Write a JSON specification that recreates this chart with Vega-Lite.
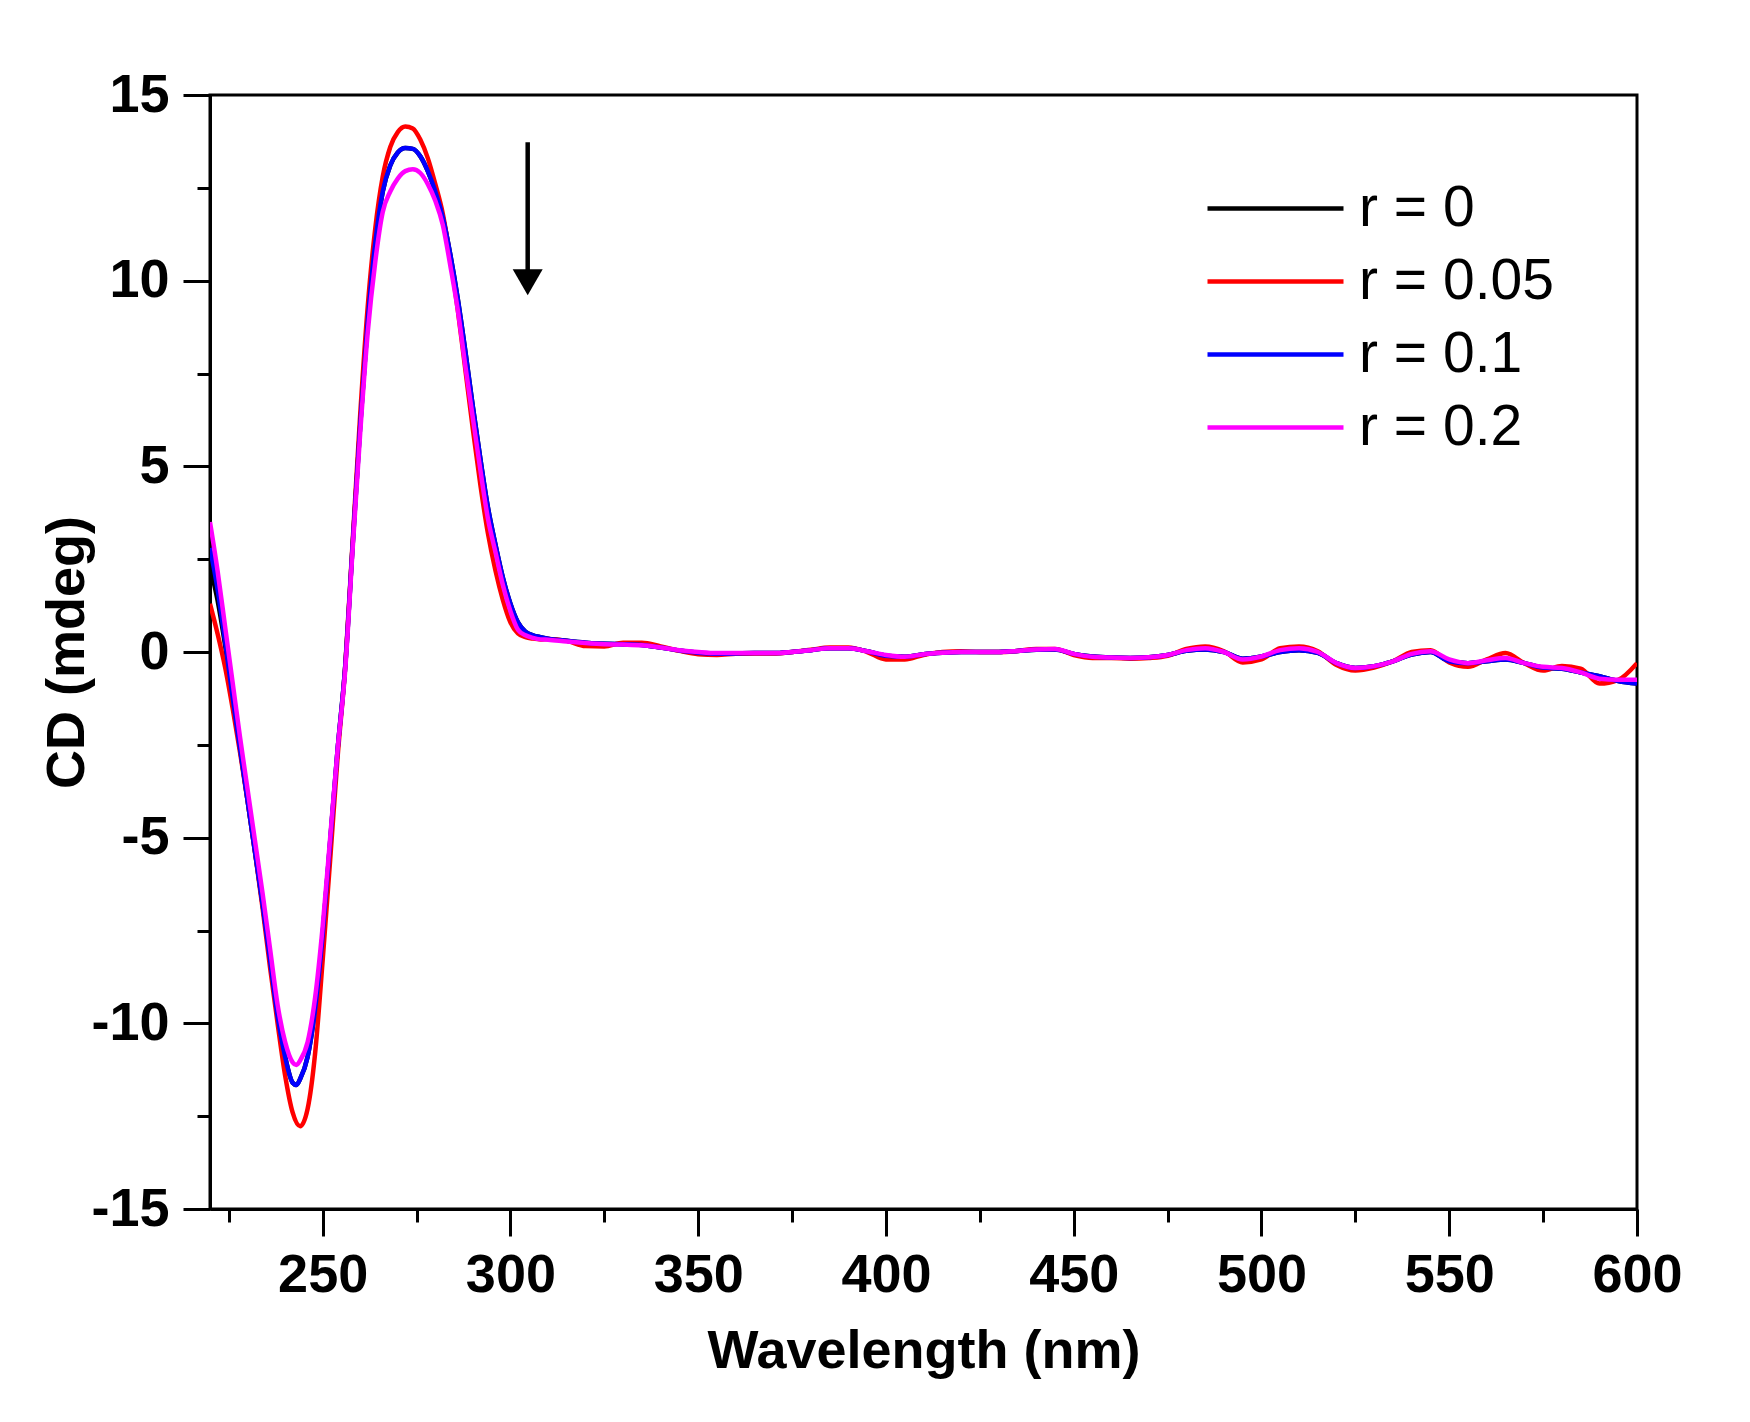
{
  "$schema": "https://vega.github.io/schema/vega-lite/v6.json",
  "autosize": {"type": "none"},
  "padding": {"left": 210, "top": 95, "right": 113, "bottom": 213},
  "width": 1427,
  "height": 1114,
  "background": "white",
  "config": {
    "font": "Liberation Sans",
    "view": {"stroke": "black", "strokeWidth": 3}
  },
  "layer": [
    {
      "data": {
        "values": [
          {"r": "r = 0", "nm": 220, "cd": 2.3}, {"r": "r = 0", "nm": 222, "cd": 1.4}, {"r": "r = 0", "nm": 224, "cd": 0.2},
          {"r": "r = 0", "nm": 226, "cd": -1.2}, {"r": "r = 0", "nm": 228, "cd": -2.6}, {"r": "r = 0", "nm": 230, "cd": -4.0},
          {"r": "r = 0", "nm": 232, "cd": -5.4}, {"r": "r = 0", "nm": 234, "cd": -6.8}, {"r": "r = 0", "nm": 236, "cd": -8.3},
          {"r": "r = 0", "nm": 238, "cd": -9.8}, {"r": "r = 0", "nm": 240, "cd": -10.9}, {"r": "r = 0", "nm": 242, "cd": -11.6},
          {"r": "r = 0", "nm": 243, "cd": -11.66}, {"r": "r = 0", "nm": 244, "cd": -11.5}, {"r": "r = 0", "nm": 246, "cd": -10.9},
          {"r": "r = 0", "nm": 248, "cd": -9.6}, {"r": "r = 0", "nm": 250, "cd": -7.6}, {"r": "r = 0", "nm": 252, "cd": -5.1},
          {"r": "r = 0", "nm": 254, "cd": -2.6}, {"r": "r = 0", "nm": 256, "cd": -0.4}, {"r": "r = 0", "nm": 258, "cd": 2.9},
          {"r": "r = 0", "nm": 260, "cd": 6.1}, {"r": "r = 0", "nm": 262, "cd": 8.9}, {"r": "r = 0", "nm": 264, "cd": 11.0},
          {"r": "r = 0", "nm": 266, "cd": 12.4}, {"r": "r = 0", "nm": 268, "cd": 13.1}, {"r": "r = 0", "nm": 270, "cd": 13.45},
          {"r": "r = 0", "nm": 272, "cd": 13.57}, {"r": "r = 0", "nm": 274, "cd": 13.55}, {"r": "r = 0", "nm": 276, "cd": 13.35},
          {"r": "r = 0", "nm": 278, "cd": 12.95}, {"r": "r = 0", "nm": 280, "cd": 12.4}, {"r": "r = 0", "nm": 282, "cd": 11.7},
          {"r": "r = 0", "nm": 284, "cd": 10.7}, {"r": "r = 0", "nm": 286, "cd": 9.5}, {"r": "r = 0", "nm": 288, "cd": 8.1},
          {"r": "r = 0", "nm": 290, "cd": 6.6}, {"r": "r = 0", "nm": 292, "cd": 5.2}, {"r": "r = 0", "nm": 294, "cd": 3.9},
          {"r": "r = 0", "nm": 296, "cd": 2.9}, {"r": "r = 0", "nm": 298, "cd": 2.0}, {"r": "r = 0", "nm": 300, "cd": 1.3},
          {"r": "r = 0", "nm": 302, "cd": 0.8}, {"r": "r = 0", "nm": 304, "cd": 0.55}, {"r": "r = 0", "nm": 306, "cd": 0.45},
          {"r": "r = 0", "nm": 308, "cd": 0.4}, {"r": "r = 0", "nm": 310, "cd": 0.36}, {"r": "r = 0", "nm": 315, "cd": 0.3},
          {"r": "r = 0", "nm": 320, "cd": 0.25}, {"r": "r = 0", "nm": 325, "cd": 0.22}, {"r": "r = 0", "nm": 330, "cd": 0.21},
          {"r": "r = 0", "nm": 335, "cd": 0.19}, {"r": "r = 0", "nm": 340, "cd": 0.12}, {"r": "r = 0", "nm": 345, "cd": 0.04},
          {"r": "r = 0", "nm": 350, "cd": -0.02}, {"r": "r = 0", "nm": 355, "cd": -0.05}, {"r": "r = 0", "nm": 360, "cd": -0.04},
          {"r": "r = 0", "nm": 365, "cd": -0.03}, {"r": "r = 0", "nm": 370, "cd": -0.03}, {"r": "r = 0", "nm": 375, "cd": 0.0},
          {"r": "r = 0", "nm": 380, "cd": 0.05}, {"r": "r = 0", "nm": 385, "cd": 0.1}, {"r": "r = 0", "nm": 390, "cd": 0.1},
          {"r": "r = 0", "nm": 395, "cd": 0.02}, {"r": "r = 0", "nm": 400, "cd": -0.1}, {"r": "r = 0", "nm": 405, "cd": -0.13},
          {"r": "r = 0", "nm": 410, "cd": -0.06}, {"r": "r = 0", "nm": 415, "cd": -0.02}, {"r": "r = 0", "nm": 420, "cd": 0.0},
          {"r": "r = 0", "nm": 425, "cd": 0.0}, {"r": "r = 0", "nm": 430, "cd": 0.0}, {"r": "r = 0", "nm": 435, "cd": 0.03},
          {"r": "r = 0", "nm": 440, "cd": 0.06}, {"r": "r = 0", "nm": 445, "cd": 0.07}, {"r": "r = 0", "nm": 450, "cd": -0.05},
          {"r": "r = 0", "nm": 455, "cd": -0.12}, {"r": "r = 0", "nm": 460, "cd": -0.15}, {"r": "r = 0", "nm": 465, "cd": -0.16},
          {"r": "r = 0", "nm": 470, "cd": -0.14}, {"r": "r = 0", "nm": 475, "cd": -0.08}, {"r": "r = 0", "nm": 480, "cd": 0.03},
          {"r": "r = 0", "nm": 485, "cd": 0.07}, {"r": "r = 0", "nm": 490, "cd": 0.0}, {"r": "r = 0", "nm": 495, "cd": -0.18},
          {"r": "r = 0", "nm": 500, "cd": -0.12}, {"r": "r = 0", "nm": 505, "cd": 0.0}, {"r": "r = 0", "nm": 510, "cd": 0.05},
          {"r": "r = 0", "nm": 515, "cd": -0.02}, {"r": "r = 0", "nm": 520, "cd": -0.3}, {"r": "r = 0", "nm": 525, "cd": -0.43},
          {"r": "r = 0", "nm": 530, "cd": -0.38}, {"r": "r = 0", "nm": 535, "cd": -0.25}, {"r": "r = 0", "nm": 540, "cd": -0.07},
          {"r": "r = 0", "nm": 545, "cd": 0.0}, {"r": "r = 0", "nm": 550, "cd": -0.25}, {"r": "r = 0", "nm": 555, "cd": -0.3},
          {"r": "r = 0", "nm": 560, "cd": -0.25}, {"r": "r = 0", "nm": 565, "cd": -0.2}, {"r": "r = 0", "nm": 570, "cd": -0.3},
          {"r": "r = 0", "nm": 575, "cd": -0.42}, {"r": "r = 0", "nm": 580, "cd": -0.45}, {"r": "r = 0", "nm": 585, "cd": -0.55},
          {"r": "r = 0", "nm": 590, "cd": -0.65}, {"r": "r = 0", "nm": 595, "cd": -0.78}, {"r": "r = 0", "nm": 600, "cd": -0.85},

          {"r": "r = 0.05", "nm": 220, "cd": 1.3}, {"r": "r = 0.05", "nm": 222, "cd": 0.5}, {"r": "r = 0.05", "nm": 224, "cd": -0.4},
          {"r": "r = 0.05", "nm": 226, "cd": -1.5}, {"r": "r = 0.05", "nm": 228, "cd": -2.7}, {"r": "r = 0.05", "nm": 230, "cd": -4.0},
          {"r": "r = 0.05", "nm": 232, "cd": -5.4}, {"r": "r = 0.05", "nm": 234, "cd": -6.9}, {"r": "r = 0.05", "nm": 236, "cd": -8.5},
          {"r": "r = 0.05", "nm": 238, "cd": -10.0}, {"r": "r = 0.05", "nm": 240, "cd": -11.4}, {"r": "r = 0.05", "nm": 242, "cd": -12.4},
          {"r": "r = 0.05", "nm": 244, "cd": -12.77}, {"r": "r = 0.05", "nm": 246, "cd": -12.3}, {"r": "r = 0.05", "nm": 248, "cd": -10.8},
          {"r": "r = 0.05", "nm": 250, "cd": -8.3}, {"r": "r = 0.05", "nm": 252, "cd": -5.6}, {"r": "r = 0.05", "nm": 254, "cd": -2.8},
          {"r": "r = 0.05", "nm": 256, "cd": -0.4}, {"r": "r = 0.05", "nm": 258, "cd": 3.0}, {"r": "r = 0.05", "nm": 260, "cd": 6.4},
          {"r": "r = 0.05", "nm": 262, "cd": 9.3}, {"r": "r = 0.05", "nm": 264, "cd": 11.4}, {"r": "r = 0.05", "nm": 266, "cd": 12.8},
          {"r": "r = 0.05", "nm": 268, "cd": 13.6}, {"r": "r = 0.05", "nm": 270, "cd": 14.0}, {"r": "r = 0.05", "nm": 272, "cd": 14.15},
          {"r": "r = 0.05", "nm": 274, "cd": 14.1}, {"r": "r = 0.05", "nm": 276, "cd": 13.8}, {"r": "r = 0.05", "nm": 278, "cd": 13.3},
          {"r": "r = 0.05", "nm": 280, "cd": 12.6}, {"r": "r = 0.05", "nm": 282, "cd": 11.8}, {"r": "r = 0.05", "nm": 284, "cd": 10.6},
          {"r": "r = 0.05", "nm": 286, "cd": 9.2}, {"r": "r = 0.05", "nm": 288, "cd": 7.6}, {"r": "r = 0.05", "nm": 290, "cd": 6.0},
          {"r": "r = 0.05", "nm": 292, "cd": 4.5}, {"r": "r = 0.05", "nm": 294, "cd": 3.2}, {"r": "r = 0.05", "nm": 296, "cd": 2.2},
          {"r": "r = 0.05", "nm": 298, "cd": 1.4}, {"r": "r = 0.05", "nm": 300, "cd": 0.8}, {"r": "r = 0.05", "nm": 302, "cd": 0.5},
          {"r": "r = 0.05", "nm": 304, "cd": 0.4}, {"r": "r = 0.05", "nm": 306, "cd": 0.36}, {"r": "r = 0.05", "nm": 308, "cd": 0.34},
          {"r": "r = 0.05", "nm": 310, "cd": 0.35}, {"r": "r = 0.05", "nm": 315, "cd": 0.3}, {"r": "r = 0.05", "nm": 320, "cd": 0.16},
          {"r": "r = 0.05", "nm": 325, "cd": 0.15}, {"r": "r = 0.05", "nm": 330, "cd": 0.25}, {"r": "r = 0.05", "nm": 335, "cd": 0.25},
          {"r": "r = 0.05", "nm": 340, "cd": 0.15}, {"r": "r = 0.05", "nm": 345, "cd": 0.03}, {"r": "r = 0.05", "nm": 350, "cd": -0.06},
          {"r": "r = 0.05", "nm": 355, "cd": -0.08}, {"r": "r = 0.05", "nm": 360, "cd": -0.05}, {"r": "r = 0.05", "nm": 365, "cd": -0.04},
          {"r": "r = 0.05", "nm": 370, "cd": -0.04}, {"r": "r = 0.05", "nm": 375, "cd": 0.0}, {"r": "r = 0.05", "nm": 380, "cd": 0.06},
          {"r": "r = 0.05", "nm": 385, "cd": 0.12}, {"r": "r = 0.05", "nm": 390, "cd": 0.12}, {"r": "r = 0.05", "nm": 395, "cd": 0.0},
          {"r": "r = 0.05", "nm": 400, "cd": -0.2}, {"r": "r = 0.05", "nm": 405, "cd": -0.2}, {"r": "r = 0.05", "nm": 410, "cd": -0.08},
          {"r": "r = 0.05", "nm": 415, "cd": 0.0}, {"r": "r = 0.05", "nm": 420, "cd": 0.02}, {"r": "r = 0.05", "nm": 425, "cd": 0.0},
          {"r": "r = 0.05", "nm": 430, "cd": 0.0}, {"r": "r = 0.05", "nm": 435, "cd": 0.03}, {"r": "r = 0.05", "nm": 440, "cd": 0.08},
          {"r": "r = 0.05", "nm": 445, "cd": 0.08}, {"r": "r = 0.05", "nm": 450, "cd": -0.08}, {"r": "r = 0.05", "nm": 455, "cd": -0.16},
          {"r": "r = 0.05", "nm": 460, "cd": -0.16}, {"r": "r = 0.05", "nm": 465, "cd": -0.18}, {"r": "r = 0.05", "nm": 470, "cd": -0.16},
          {"r": "r = 0.05", "nm": 475, "cd": -0.1}, {"r": "r = 0.05", "nm": 480, "cd": 0.08}, {"r": "r = 0.05", "nm": 485, "cd": 0.15},
          {"r": "r = 0.05", "nm": 490, "cd": 0.02}, {"r": "r = 0.05", "nm": 495, "cd": -0.28}, {"r": "r = 0.05", "nm": 500, "cd": -0.2},
          {"r": "r = 0.05", "nm": 505, "cd": 0.1}, {"r": "r = 0.05", "nm": 510, "cd": 0.15}, {"r": "r = 0.05", "nm": 515, "cd": 0.02},
          {"r": "r = 0.05", "nm": 520, "cd": -0.35}, {"r": "r = 0.05", "nm": 525, "cd": -0.5}, {"r": "r = 0.05", "nm": 530, "cd": -0.42},
          {"r": "r = 0.05", "nm": 535, "cd": -0.25}, {"r": "r = 0.05", "nm": 540, "cd": 0.0}, {"r": "r = 0.05", "nm": 545, "cd": 0.05},
          {"r": "r = 0.05", "nm": 550, "cd": -0.28}, {"r": "r = 0.05", "nm": 555, "cd": -0.4}, {"r": "r = 0.05", "nm": 560, "cd": -0.2},
          {"r": "r = 0.05", "nm": 565, "cd": -0.03}, {"r": "r = 0.05", "nm": 570, "cd": -0.3}, {"r": "r = 0.05", "nm": 575, "cd": -0.5},
          {"r": "r = 0.05", "nm": 580, "cd": -0.38}, {"r": "r = 0.05", "nm": 585, "cd": -0.45}, {"r": "r = 0.05", "nm": 590, "cd": -0.85},
          {"r": "r = 0.05", "nm": 595, "cd": -0.75}, {"r": "r = 0.05", "nm": 600, "cd": -0.3},

          {"r": "r = 0.1", "nm": 220, "cd": 2.8}, {"r": "r = 0.1", "nm": 222, "cd": 1.7}, {"r": "r = 0.1", "nm": 224, "cd": 0.3},
          {"r": "r = 0.1", "nm": 226, "cd": -1.2}, {"r": "r = 0.1", "nm": 228, "cd": -2.6}, {"r": "r = 0.1", "nm": 230, "cd": -4.0},
          {"r": "r = 0.1", "nm": 232, "cd": -5.4}, {"r": "r = 0.1", "nm": 234, "cd": -6.8}, {"r": "r = 0.1", "nm": 236, "cd": -8.3},
          {"r": "r = 0.1", "nm": 238, "cd": -9.8}, {"r": "r = 0.1", "nm": 240, "cd": -10.9}, {"r": "r = 0.1", "nm": 242, "cd": -11.6},
          {"r": "r = 0.1", "nm": 243, "cd": -11.66}, {"r": "r = 0.1", "nm": 244, "cd": -11.5}, {"r": "r = 0.1", "nm": 246, "cd": -10.9},
          {"r": "r = 0.1", "nm": 248, "cd": -9.6}, {"r": "r = 0.1", "nm": 250, "cd": -7.6}, {"r": "r = 0.1", "nm": 252, "cd": -5.1},
          {"r": "r = 0.1", "nm": 254, "cd": -2.6}, {"r": "r = 0.1", "nm": 256, "cd": -0.4}, {"r": "r = 0.1", "nm": 258, "cd": 2.9},
          {"r": "r = 0.1", "nm": 260, "cd": 6.1}, {"r": "r = 0.1", "nm": 262, "cd": 8.9}, {"r": "r = 0.1", "nm": 264, "cd": 11.0},
          {"r": "r = 0.1", "nm": 266, "cd": 12.4}, {"r": "r = 0.1", "nm": 268, "cd": 13.1}, {"r": "r = 0.1", "nm": 270, "cd": 13.45},
          {"r": "r = 0.1", "nm": 272, "cd": 13.57}, {"r": "r = 0.1", "nm": 274, "cd": 13.55}, {"r": "r = 0.1", "nm": 276, "cd": 13.35},
          {"r": "r = 0.1", "nm": 278, "cd": 12.95}, {"r": "r = 0.1", "nm": 280, "cd": 12.4}, {"r": "r = 0.1", "nm": 282, "cd": 11.7},
          {"r": "r = 0.1", "nm": 284, "cd": 10.7}, {"r": "r = 0.1", "nm": 286, "cd": 9.5}, {"r": "r = 0.1", "nm": 288, "cd": 8.1},
          {"r": "r = 0.1", "nm": 290, "cd": 6.6}, {"r": "r = 0.1", "nm": 292, "cd": 5.2}, {"r": "r = 0.1", "nm": 294, "cd": 3.9},
          {"r": "r = 0.1", "nm": 296, "cd": 2.9}, {"r": "r = 0.1", "nm": 298, "cd": 2.0}, {"r": "r = 0.1", "nm": 300, "cd": 1.3},
          {"r": "r = 0.1", "nm": 302, "cd": 0.8}, {"r": "r = 0.1", "nm": 304, "cd": 0.55}, {"r": "r = 0.1", "nm": 306, "cd": 0.45},
          {"r": "r = 0.1", "nm": 308, "cd": 0.4}, {"r": "r = 0.1", "nm": 310, "cd": 0.36}, {"r": "r = 0.1", "nm": 315, "cd": 0.3},
          {"r": "r = 0.1", "nm": 320, "cd": 0.25}, {"r": "r = 0.1", "nm": 325, "cd": 0.22}, {"r": "r = 0.1", "nm": 330, "cd": 0.21},
          {"r": "r = 0.1", "nm": 335, "cd": 0.19}, {"r": "r = 0.1", "nm": 340, "cd": 0.12}, {"r": "r = 0.1", "nm": 345, "cd": 0.04},
          {"r": "r = 0.1", "nm": 350, "cd": -0.02}, {"r": "r = 0.1", "nm": 355, "cd": -0.05}, {"r": "r = 0.1", "nm": 360, "cd": -0.04},
          {"r": "r = 0.1", "nm": 365, "cd": -0.03}, {"r": "r = 0.1", "nm": 370, "cd": -0.03}, {"r": "r = 0.1", "nm": 375, "cd": 0.0},
          {"r": "r = 0.1", "nm": 380, "cd": 0.05}, {"r": "r = 0.1", "nm": 385, "cd": 0.1}, {"r": "r = 0.1", "nm": 390, "cd": 0.1},
          {"r": "r = 0.1", "nm": 395, "cd": 0.02}, {"r": "r = 0.1", "nm": 400, "cd": -0.1}, {"r": "r = 0.1", "nm": 405, "cd": -0.13},
          {"r": "r = 0.1", "nm": 410, "cd": -0.06}, {"r": "r = 0.1", "nm": 415, "cd": -0.02}, {"r": "r = 0.1", "nm": 420, "cd": 0.0},
          {"r": "r = 0.1", "nm": 425, "cd": 0.0}, {"r": "r = 0.1", "nm": 430, "cd": 0.0}, {"r": "r = 0.1", "nm": 435, "cd": 0.03},
          {"r": "r = 0.1", "nm": 440, "cd": 0.06}, {"r": "r = 0.1", "nm": 445, "cd": 0.07}, {"r": "r = 0.1", "nm": 450, "cd": -0.05},
          {"r": "r = 0.1", "nm": 455, "cd": -0.12}, {"r": "r = 0.1", "nm": 460, "cd": -0.15}, {"r": "r = 0.1", "nm": 465, "cd": -0.16},
          {"r": "r = 0.1", "nm": 470, "cd": -0.14}, {"r": "r = 0.1", "nm": 475, "cd": -0.08}, {"r": "r = 0.1", "nm": 480, "cd": 0.03},
          {"r": "r = 0.1", "nm": 485, "cd": 0.07}, {"r": "r = 0.1", "nm": 490, "cd": 0.0}, {"r": "r = 0.1", "nm": 495, "cd": -0.18},
          {"r": "r = 0.1", "nm": 500, "cd": -0.12}, {"r": "r = 0.1", "nm": 505, "cd": 0.0}, {"r": "r = 0.1", "nm": 510, "cd": 0.05},
          {"r": "r = 0.1", "nm": 515, "cd": -0.02}, {"r": "r = 0.1", "nm": 520, "cd": -0.3}, {"r": "r = 0.1", "nm": 525, "cd": -0.43},
          {"r": "r = 0.1", "nm": 530, "cd": -0.38}, {"r": "r = 0.1", "nm": 535, "cd": -0.25}, {"r": "r = 0.1", "nm": 540, "cd": -0.07},
          {"r": "r = 0.1", "nm": 545, "cd": 0.0}, {"r": "r = 0.1", "nm": 550, "cd": -0.25}, {"r": "r = 0.1", "nm": 555, "cd": -0.3},
          {"r": "r = 0.1", "nm": 560, "cd": -0.25}, {"r": "r = 0.1", "nm": 565, "cd": -0.2}, {"r": "r = 0.1", "nm": 570, "cd": -0.3},
          {"r": "r = 0.1", "nm": 575, "cd": -0.42}, {"r": "r = 0.1", "nm": 580, "cd": -0.45}, {"r": "r = 0.1", "nm": 585, "cd": -0.55},
          {"r": "r = 0.1", "nm": 590, "cd": -0.65}, {"r": "r = 0.1", "nm": 595, "cd": -0.78}, {"r": "r = 0.1", "nm": 600, "cd": -0.85},

          {"r": "r = 0.2", "nm": 220, "cd": 3.5}, {"r": "r = 0.2", "nm": 222, "cd": 2.2}, {"r": "r = 0.2", "nm": 224, "cd": 0.7},
          {"r": "r = 0.2", "nm": 226, "cd": -0.8}, {"r": "r = 0.2", "nm": 228, "cd": -2.3}, {"r": "r = 0.2", "nm": 230, "cd": -3.7},
          {"r": "r = 0.2", "nm": 232, "cd": -5.1}, {"r": "r = 0.2", "nm": 234, "cd": -6.5}, {"r": "r = 0.2", "nm": 236, "cd": -8.0},
          {"r": "r = 0.2", "nm": 238, "cd": -9.5}, {"r": "r = 0.2", "nm": 240, "cd": -10.5}, {"r": "r = 0.2", "nm": 242, "cd": -11.05},
          {"r": "r = 0.2", "nm": 243, "cd": -11.12}, {"r": "r = 0.2", "nm": 244, "cd": -11.0}, {"r": "r = 0.2", "nm": 246, "cd": -10.5},
          {"r": "r = 0.2", "nm": 248, "cd": -9.3}, {"r": "r = 0.2", "nm": 250, "cd": -7.4}, {"r": "r = 0.2", "nm": 252, "cd": -5.0},
          {"r": "r = 0.2", "nm": 254, "cd": -2.6}, {"r": "r = 0.2", "nm": 256, "cd": -0.5}, {"r": "r = 0.2", "nm": 258, "cd": 2.8},
          {"r": "r = 0.2", "nm": 260, "cd": 5.9}, {"r": "r = 0.2", "nm": 262, "cd": 8.6}, {"r": "r = 0.2", "nm": 264, "cd": 10.5},
          {"r": "r = 0.2", "nm": 266, "cd": 11.85}, {"r": "r = 0.2", "nm": 268, "cd": 12.4}, {"r": "r = 0.2", "nm": 270, "cd": 12.75},
          {"r": "r = 0.2", "nm": 272, "cd": 12.95}, {"r": "r = 0.2", "nm": 274, "cd": 13.0}, {"r": "r = 0.2", "nm": 276, "cd": 12.9},
          {"r": "r = 0.2", "nm": 278, "cd": 12.6}, {"r": "r = 0.2", "nm": 280, "cd": 12.15}, {"r": "r = 0.2", "nm": 282, "cd": 11.5},
          {"r": "r = 0.2", "nm": 284, "cd": 10.4}, {"r": "r = 0.2", "nm": 286, "cd": 9.2}, {"r": "r = 0.2", "nm": 288, "cd": 7.7},
          {"r": "r = 0.2", "nm": 290, "cd": 6.3}, {"r": "r = 0.2", "nm": 292, "cd": 4.9}, {"r": "r = 0.2", "nm": 294, "cd": 3.6},
          {"r": "r = 0.2", "nm": 296, "cd": 2.7}, {"r": "r = 0.2", "nm": 298, "cd": 1.8}, {"r": "r = 0.2", "nm": 300, "cd": 1.1},
          {"r": "r = 0.2", "nm": 302, "cd": 0.6}, {"r": "r = 0.2", "nm": 304, "cd": 0.45}, {"r": "r = 0.2", "nm": 306, "cd": 0.38},
          {"r": "r = 0.2", "nm": 308, "cd": 0.34}, {"r": "r = 0.2", "nm": 310, "cd": 0.33}, {"r": "r = 0.2", "nm": 315, "cd": 0.28},
          {"r": "r = 0.2", "nm": 320, "cd": 0.24}, {"r": "r = 0.2", "nm": 325, "cd": 0.21}, {"r": "r = 0.2", "nm": 330, "cd": 0.2},
          {"r": "r = 0.2", "nm": 335, "cd": 0.18}, {"r": "r = 0.2", "nm": 340, "cd": 0.12}, {"r": "r = 0.2", "nm": 345, "cd": 0.05},
          {"r": "r = 0.2", "nm": 350, "cd": 0.0}, {"r": "r = 0.2", "nm": 355, "cd": -0.03}, {"r": "r = 0.2", "nm": 360, "cd": -0.03},
          {"r": "r = 0.2", "nm": 365, "cd": -0.03}, {"r": "r = 0.2", "nm": 370, "cd": -0.03}, {"r": "r = 0.2", "nm": 375, "cd": 0.0},
          {"r": "r = 0.2", "nm": 380, "cd": 0.05}, {"r": "r = 0.2", "nm": 385, "cd": 0.1}, {"r": "r = 0.2", "nm": 390, "cd": 0.1},
          {"r": "r = 0.2", "nm": 395, "cd": 0.02}, {"r": "r = 0.2", "nm": 400, "cd": -0.08}, {"r": "r = 0.2", "nm": 405, "cd": -0.13},
          {"r": "r = 0.2", "nm": 410, "cd": -0.06}, {"r": "r = 0.2", "nm": 415, "cd": -0.02}, {"r": "r = 0.2", "nm": 420, "cd": 0.0},
          {"r": "r = 0.2", "nm": 425, "cd": 0.0}, {"r": "r = 0.2", "nm": 430, "cd": 0.0}, {"r": "r = 0.2", "nm": 435, "cd": 0.03},
          {"r": "r = 0.2", "nm": 440, "cd": 0.07}, {"r": "r = 0.2", "nm": 445, "cd": 0.08}, {"r": "r = 0.2", "nm": 450, "cd": -0.05},
          {"r": "r = 0.2", "nm": 455, "cd": -0.13}, {"r": "r = 0.2", "nm": 460, "cd": -0.15}, {"r": "r = 0.2", "nm": 465, "cd": -0.16},
          {"r": "r = 0.2", "nm": 470, "cd": -0.14}, {"r": "r = 0.2", "nm": 475, "cd": -0.08}, {"r": "r = 0.2", "nm": 480, "cd": 0.05},
          {"r": "r = 0.2", "nm": 485, "cd": 0.1}, {"r": "r = 0.2", "nm": 490, "cd": 0.0}, {"r": "r = 0.2", "nm": 495, "cd": -0.2},
          {"r": "r = 0.2", "nm": 500, "cd": -0.12}, {"r": "r = 0.2", "nm": 505, "cd": 0.05}, {"r": "r = 0.2", "nm": 510, "cd": 0.1},
          {"r": "r = 0.2", "nm": 515, "cd": 0.0}, {"r": "r = 0.2", "nm": 520, "cd": -0.3}, {"r": "r = 0.2", "nm": 525, "cd": -0.43},
          {"r": "r = 0.2", "nm": 530, "cd": -0.38}, {"r": "r = 0.2", "nm": 535, "cd": -0.25}, {"r": "r = 0.2", "nm": 540, "cd": -0.05},
          {"r": "r = 0.2", "nm": 545, "cd": 0.02}, {"r": "r = 0.2", "nm": 550, "cd": -0.2}, {"r": "r = 0.2", "nm": 555, "cd": -0.3},
          {"r": "r = 0.2", "nm": 560, "cd": -0.22}, {"r": "r = 0.2", "nm": 565, "cd": -0.16}, {"r": "r = 0.2", "nm": 570, "cd": -0.3},
          {"r": "r = 0.2", "nm": 575, "cd": -0.4}, {"r": "r = 0.2", "nm": 580, "cd": -0.43}, {"r": "r = 0.2", "nm": 585, "cd": -0.55},
          {"r": "r = 0.2", "nm": 590, "cd": -0.72}, {"r": "r = 0.2", "nm": 595, "cd": -0.75}, {"r": "r = 0.2", "nm": 600, "cd": -0.75}
        ]
      },
      "mark": {"type": "line", "strokeWidth": 4.5, "clip": true, "interpolate": "monotone"},
      "encoding": {
        "x": {
          "field": "nm",
          "type": "quantitative",
          "title": "Wavelength (nm)",
          "scale": {"domain": [220, 600], "nice": false, "zero": false},
          "axis": {
            "values": [225, 250, 275, 300, 325, 350, 375, 400, 425, 450, 475, 500, 525, 550, 575, 600],
            "labelExpr": "datum.value % 50 === 0 ? datum.label : ''",
            "tickSize": {"condition": {"test": "datum.value % 50 === 0", "value": 27}, "value": 13},
            "grid": false,
            "domainColor": "black",
            "domainWidth": 3,
            "tickColor": "black",
            "tickWidth": 3,
            "labelFontSize": 54,
            "labelFontWeight": "bold",
            "labelColor": "black",
            "labelPadding": 12,
            "labelFlush": false,
            "labelOverlap": false,
            "titleFontSize": 54,
            "titleFontWeight": "bold",
            "titleColor": "black",
            "titlePadding": 22
          }
        },
        "y": {
          "field": "cd",
          "type": "quantitative",
          "title": "CD (mdeg)",
          "scale": {"domain": [-15, 15], "nice": false, "zero": false},
          "axis": {
            "values": [-15, -12.5, -10, -7.5, -5, -2.5, 0, 2.5, 5, 7.5, 10, 12.5, 15],
            "labelExpr": "datum.value % 5 === 0 ? (datum.value < 0 ? '-' + abs(datum.value) : '' + datum.value) : ''",
            "tickSize": {"condition": {"test": "datum.value % 5 === 0", "value": 27}, "value": 13},
            "grid": false,
            "domainColor": "black",
            "domainWidth": 3,
            "tickColor": "black",
            "tickWidth": 3,
            "labelFontSize": 54,
            "labelFontWeight": "bold",
            "labelColor": "black",
            "labelPadding": 14,
            "labelFlush": false,
            "labelOverlap": false,
            "titleFontSize": 54,
            "titleFontWeight": "bold",
            "titleColor": "black",
            "titlePadding": -4
          }
        },
        "color": {
          "field": "r",
          "type": "nominal",
          "scale": {
            "domain": ["r = 0", "r = 0.05", "r = 0.1", "r = 0.2"],
            "range": ["#000000", "#ff0000", "#0000ff", "#ff00ff"]
          },
          "legend": {
            "title": null,
            "orient": "none",
            "legendX": 1037,
            "legendY": 85,
            "padding": 0,
            "symbolType": "M-4,0H4",
            "symbolSize": 1156,
            "symbolStrokeWidth": 4.5,
            "labelFontSize": 57,
            "labelColor": "black",
            "labelLimit": 0,
            "labelOffset": 55,
            "rowPadding": 15
          }
        }
      }
    },
    {
      "data": {"values": [{"nm": 304.6, "cd": 13.73, "cd2": 10.2}]},
      "mark": {"type": "rule", "strokeWidth": 4.5, "color": "black"},
      "encoding": {
        "x": {"field": "nm", "type": "quantitative"},
        "y": {"field": "cd", "type": "quantitative"},
        "y2": {"field": "cd2"}
      }
    },
    {
      "data": {"values": [{"nm": 304.6, "cd": 9.96}]},
      "mark": {"type": "point", "shape": "triangle-down", "size": 900, "filled": true, "color": "black", "opacity": 1},
      "encoding": {
        "x": {"field": "nm", "type": "quantitative"},
        "y": {"field": "cd", "type": "quantitative"}
      }
    }
  ]
}
